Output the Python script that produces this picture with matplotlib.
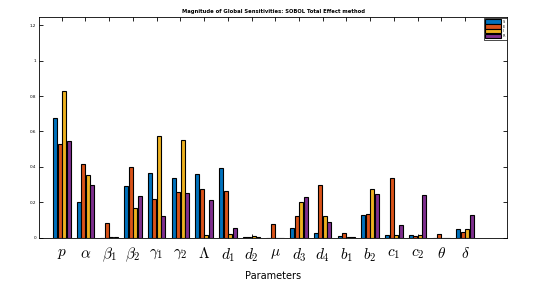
import matplotlib
matplotlib.use("Agg")
import matplotlib.pyplot as plt
import numpy as np
from matplotlib.ticker import FixedLocator

plt.rcParams["mathtext.fontset"] = "cm"

params = [r"$p$", r"$\alpha$", r"$\beta_1$", r"$\beta_2$", r"$\gamma_1$", r"$\gamma_2$",
          r"$\Lambda$", r"$d_1$", r"$d_2$", r"$\mu$", r"$d_3$", r"$d_4$",
          r"$b_1$", r"$b_2$", r"$c_1$", r"$c_2$", r"$\theta$", r"$\delta$"]

series_names = ["S", "E", "I", "R"]

s1 = [0.678, 0.202, 0.000, 0.292, 0.364, 0.336, 0.359, 0.393, 0.004,
      0.000, 0.056, 0.026, 0.011, 0.127, 0.015, 0.017, 0.000, 0.050]
s2 = [0.527, 0.415, 0.082, 0.400, 0.219, 0.258, 0.277, 0.264, 0.002,
      0.075, 0.120, 0.295, 0.024, 0.135, 0.335, 0.009, 0.020, 0.034]
s3 = [0.826, 0.353, 0.002, 0.170, 0.574, 0.553, 0.015, 0.022, 0.008,
      0.000, 0.200, 0.123, 0.005, 0.275, 0.015, 0.017, 0.000, 0.049]
s4 = [0.548, 0.297, 0.002, 0.234, 0.121, 0.254, 0.213, 0.056, 0.002,
      0.000, 0.230, 0.088, 0.005, 0.247, 0.073, 0.241, 0.000, 0.127]

colors = ["#0072BD", "#D95319", "#EDB120", "#7E2F8E"]

fig = plt.figure(figsize=(5.41, 2.85), dpi=100)
ax = fig.add_axes([39 / 541, 1 - 237.7 / 285, (507 - 39) / 541, (237.7 - 17.3) / 285])

x = np.arange(1, len(params) + 1)
w = 0.17
for k, (vals, c, name) in enumerate(zip([s1, s2, s3, s4], colors, series_names)):
    ax.bar(x + (k - 1.5) * 0.19, vals, width=w, color=c, edgecolor="black",
           linewidth=0.8, label=name)

ax.set_xlim(0.04, 19.77)
ax.set_ylim(0, 1.245)
ax.set_xticks(x)
ax.set_xticklabels(params, fontsize=11)
ax.yaxis.set_major_locator(FixedLocator([0, 0.2, 0.4, 0.6, 0.8, 1.0, 1.2]))
ax.set_yticklabels(["0", "0.2", "0.4", "0.6", "0.8", "1", "1.2"], fontsize=3)
ax.tick_params(direction="in", top=True, right=True, length=3, width=0.6, pad=2)
ax.tick_params(axis="x", pad=6)
for sp in ax.spines.values():
    sp.set_linewidth(0.6)

ax.set_xlabel("Parameters", fontsize=7, labelpad=5)
ax.set_title("Magnitude of Global Sensitivities: SOBOL Total Effect method",
             fontsize=3.8, fontweight="bold", pad=3)

leg = ax.legend(loc="upper right", fontsize=2.5, handlelength=4.5, handleheight=1.6,
                handletextpad=0.4, borderpad=0.5, labelspacing=0.1,
                borderaxespad=0.1, fancybox=False, edgecolor="black", framealpha=1)
leg.get_frame().set_linewidth(0.5)

fig.savefig("out.png", dpi=100)
